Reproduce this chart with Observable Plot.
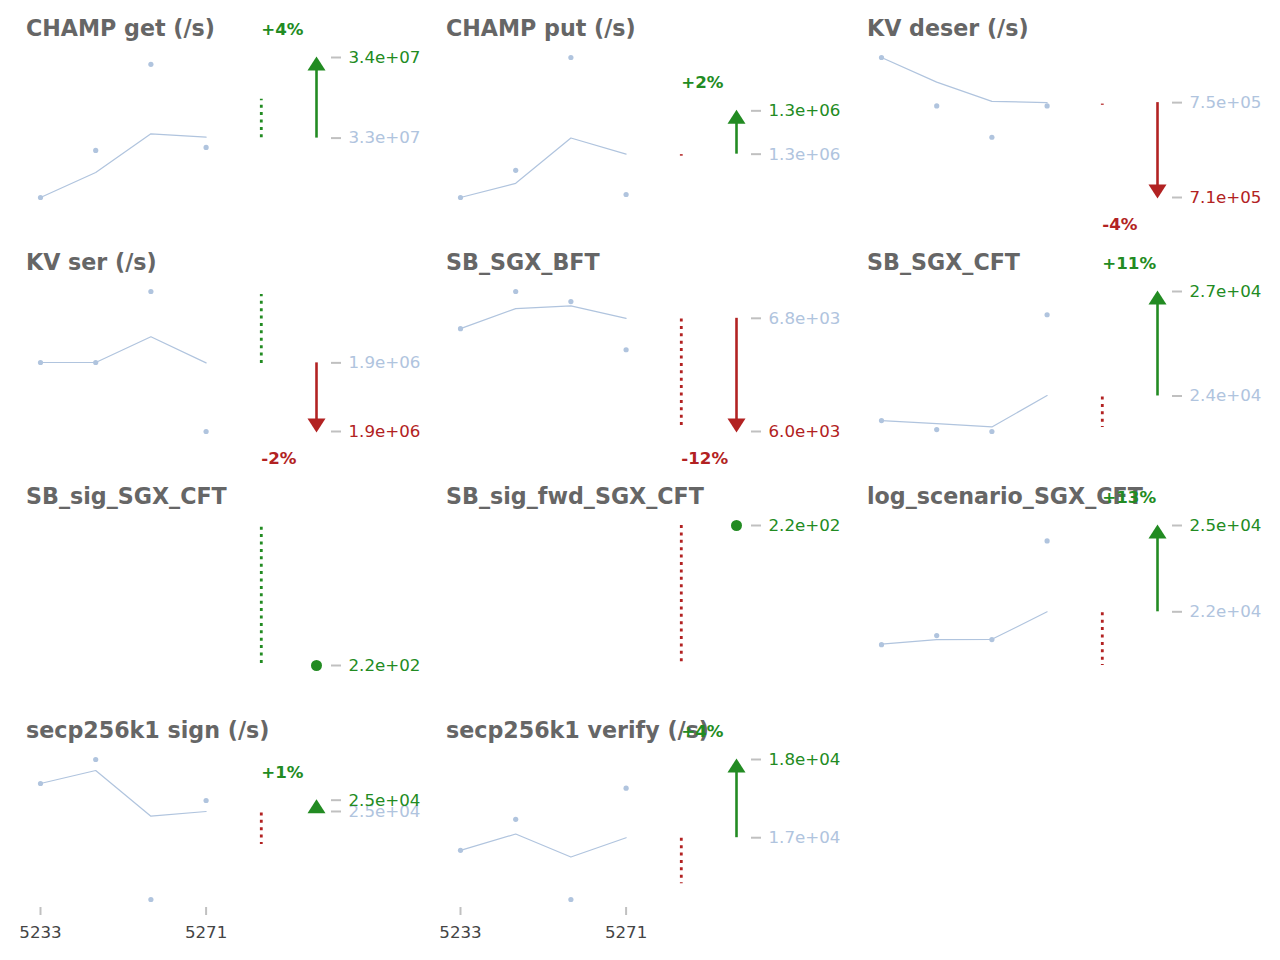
<!DOCTYPE html>
<html>
<head>
<meta charset="utf-8">
<script src="https://cdn.jsdelivr.net/npm/d3@7"></script>
<script src="https://cdn.jsdelivr.net/npm/@observablehq/plot@0.6"></script>
<style>
  html, body { margin: 0; padding: 0; background: #fff; }
  #chart { position: relative; width: 1280px; height: 960px; font-family: "DejaVu Sans", sans-serif; }
  .panel { position: absolute; width: 420px; }
  .ptitle { position: absolute; left: 26px; top: 17px; margin: 0; font: bold 22.2px/22.2px "DejaVu Sans", sans-serif; color: #666; white-space: nowrap; }
  .panel svg { position: relative; display: block; }
</style>
</head>
<body>
<div id="chart"></div>
<script>
// ---- data ----
const titles = ["CHAMP get (/s)", "CHAMP put (/s)", "KV deser (/s)", "KV ser (/s)", "SB_SGX_BFT", "SB_SGX_CFT",
  "SB_sig_SGX_CFT", "SB_sig_fwd_SGX_CFT", "log_scenario_SGX_CFT", "secp256k1 sign (/s)", "secp256k1 verify (/s)"];
const firstRun = "5233";
const lastRun = "5271";
// measured value of each of the four runs
const samples = [
  [31842000, 32601000, 33990000, 32650000],
  [1244000, 1260300, 1328000, 1245800],
  [761220, 744880, 734320, 744880],
  [1905200, 1905200, 1941400, 1870000],
  [6746.8, 7009.5, 6938.5, 6597.8],
  [23365, 23133, 23082, 26099],
  [],
  [],
  [20897, 21201, 21066, 24382],
  [25219, 25750, 22653, 24843],
  [17087, 17365, 16647, 17643]
];
// running trend over the runs
const trend = [
  [31842000, 32246000, 32869000, 32816000],
  [1244000, 1252500, 1279700, 1270000],
  [761220, 752910, 746440, 746000],
  [1905200, 1905200, 1918300, 1905000],
  [6746.8, 6888.8, 6907.3, 6820],
  [23365, 23288, 23200, 24010],
  [],
  [],
  [20917, 21066, 21076, 22000],
  [25219, 25507, 24496, 24600],
  [17087, 17233, 17027, 17200]
];
// dotted threshold range
const bandFrom = [32805000, 1268800, 745100, 1904700, 6815, 23974, 220.3, 220, 21966, 24569, 17195];
const bandTo   = [33425000, 1269700, 745500, 1939900, 6030, 23185, 240, 200, 20196, 23870, 16787];
const bandGood = [true, false, false, true, false, false, true, false, false, false, false];
// reference (previous) and current values
const baseline = [32800000, 1270000, 746000, 1905000, 6820, 24000, null, null, 22000, 24600, 17200];
const current  = [34100000, 1296000, 714000, 1870000, 6020, 26700, 220, 220, 24900, 24850, 17900];

// ---- styling ----
const GREEN = "#228b22", RED = "#b22222", LIGHT = "#b0c4de", TICK = "#c0c0c0";
const FS = 16.67;
const colLeft = [0, 420, 841];
const rowTop = [0, 234, 468, 702];
const fmtSci = v => v.toExponential(1).replace(/e([+-])(\d)$/, "e$10$2");
const fmtPct = p => { const n = Math.round(p * 100); return (n >= 0 ? "+" : "-") + Math.abs(n) + "%"; };
const upHead = {draw(c) { c.moveTo(0, -1); c.lineTo(9, 13); c.lineTo(-9, 13); c.closePath(); }};
const downHead = {draw(c) { c.moveTo(0, 1); c.lineTo(9, -13); c.lineTo(-9, -13); c.closePath(); }};

const chart = document.getElementById("chart");

titles.forEach((title, i) => {
  const col = i % 3, row = Math.floor(i / 3);
  const isBottom = row === 3;
  const H = isBottom ? 258 : 234;
  const old = baseline[i], cur = current[i];
  const hasOld = old != null;
  const rising = !hasOld || cur >= old;
  const tone = rising ? GREEN : RED;
  const pts = samples[i].map((v, k) => ({k, v}));
  const avg = trend[i].map((v, k) => ({k, v}));
  const band = [{k: 4, a: bandFrom[i], b: bandTo[i]}];
  const all = [...samples[i], ...trend[i], bandFrom[i], bandTo[i], cur].concat(hasOld ? [old] : []);

  const axisOpts = {anchor: "right", tickSize: 10, tickPadding: 8, tickFormat: fmtSci,
    stroke: TICK, strokeWidth: 2, fontSize: FS, label: null};

  const marks = [
    Plot.line(avg, {x: "k", y: "v", stroke: LIGHT, strokeWidth: 1.2}),
    Plot.dot(pts, {x: "k", y: "v", r: 2.6, fill: LIGHT, stroke: "none"}),
    Plot.ruleX(band, {x: "k", y1: "a", y2: "b", stroke: bandGood[i] ? GREEN : RED, strokeWidth: 2.8, strokeDasharray: "3 4.4"})
  ];
  if (hasOld) {
    const arrow = [{k: 5, kp: 4, old, cur}];
    marks.push(Plot.ruleX(arrow, rising
      ? {x: "k", y1: "cur", y2: "old", insetTop: 12, stroke: tone, strokeWidth: 2.6}
      : {x: "k", y1: "old", y2: "cur", insetBottom: 12, stroke: tone, strokeWidth: 2.6}));
    marks.push(Plot.dot(arrow, {x: "k", y: "cur", symbol: rising ? upHead : downHead, fill: tone, stroke: "none"}));
    marks.push(Plot.text(arrow, {x: "kp", y: "cur", text: d => fmtPct(d.cur / d.old - 1), textAnchor: "start",
      dy: rising ? -28 : 27.5, fill: tone, fontWeight: "bold", fontSize: FS}));
    marks.push(Plot.axisY({...axisOpts, ticks: [old], fill: LIGHT}));
  } else {
    marks.push(Plot.dot([{k: 5, cur}], {x: "k", y: "cur", r: 5.5, fill: tone, stroke: "none"}));
  }
  marks.push(Plot.axisY({...axisOpts, ticks: [cur], fill: tone}));
  if (isBottom) {
    marks.push(Plot.axisX({anchor: "bottom", ticks: [0, 3], tickFormat: k => (k === 0 ? firstRun : lastRun),
      tickSize: 8, tickPadding: 10.3, stroke: TICK, strokeWidth: 2, fill: "#444", fontSize: FS, label: null}));
  }

  const svg = Plot.plot({
    width: 420,
    height: H,
    marginTop: 57,
    marginBottom: H - 205,
    marginLeft: 40,
    marginRight: 90,
    x: {type: "linear", domain: [0, 5], insetRight: 14, ...(isBottom ? {} : {axis: null})},
    y: {type: "linear", domain: d3.extent(all), insetBottom: 8},
    style: {fontFamily: "DejaVu Sans", fontSize: FS + "px", background: "transparent", overflow: "visible"},
    marks
  });

  const div = document.createElement("div");
  div.className = "panel";
  div.style.left = colLeft[col] + "px";
  div.style.top = rowTop[row] + "px";
  const h = document.createElement("div");
  h.className = "ptitle";
  h.textContent = title;
  div.append(h, svg);
  chart.append(div);
});
</script>
</body>
</html>
